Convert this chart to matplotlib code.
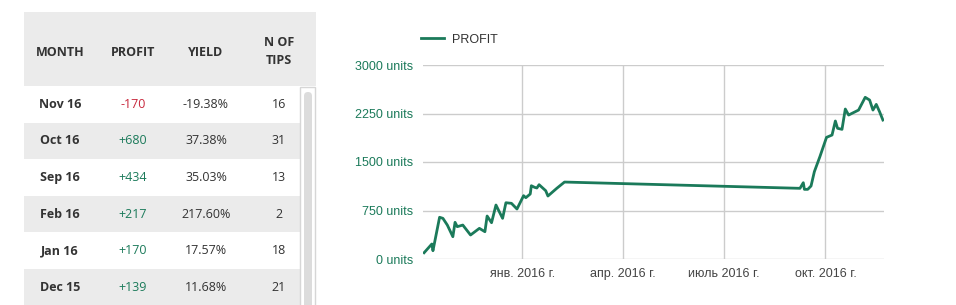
import numpy as np
import pandas as pd
import matplotlib
matplotlib.use("Agg")
import matplotlib.pyplot as plt
import matplotlib.dates as mdates
from matplotlib.patches import Rectangle, FancyBboxPatch

# table data
months = ['Nov 16', 'Oct 16', 'Sep 16', 'Feb 16', 'Jan 16', 'Dec 15']
profits = ['-170', '+680', '+434', '+217', '+170', '+139']
yields = ['-19.38%', '37.38%', '35.03%', '217.60%', '17.57%', '11.68%']
tips = ['16', '31', '13', '2', '18', '21']
headers = ['MONTH', 'PROFIT', 'YIELD', 'N OF\nTIPS']

# cumulative profit line
dates = ['2015-10-04', '2015-10-11', '2015-10-12', '2015-10-18', '2015-10-21',
         '2015-10-25', '2015-10-30', '2015-11-01', '2015-11-03', '2015-11-08',
         '2015-11-15', '2015-11-23', '2015-11-28', '2015-11-30', '2015-12-04',
         '2015-12-08', '2015-12-11', '2015-12-14', '2015-12-17', '2015-12-22',
         '2015-12-27', '2016-01-02', '2016-01-04', '2016-01-08', '2016-01-09',
         '2016-01-12', '2016-01-14', '2016-01-16', '2016-01-22', '2016-01-24',
         '2016-02-01', '2016-02-08', '2016-09-08', '2016-09-11', '2016-09-12',
         '2016-09-15', '2016-09-18', '2016-09-21', '2016-09-26', '2016-10-02',
         '2016-10-07', '2016-10-10', '2016-10-12', '2016-10-16', '2016-10-19',
         '2016-10-22', '2016-10-25', '2016-10-31', '2016-11-06', '2016-11-10',
         '2016-11-13', '2016-11-16', '2016-11-19', '2016-11-22']
profit = [97, 232, 128, 645, 629, 525, 345, 567, 500, 525,
          371, 474, 422, 665, 561, 835, 731, 629, 870, 861,
          773, 979, 948, 1005, 1133, 1108, 1098, 1149, 1056, 974,
          1093, 1190, 1093, 1180, 1077, 1077, 1129, 1350, 1582, 1881,
          1917, 2134, 2021, 2005, 2319, 2226, 2252, 2303, 2500, 2458,
          2303, 2391, 2277, 2149]

y_ticks = [0, 750, 1500, 2250, 3000]
x_tick_dates = ['2016-01-01', '2016-04-01', '2016-07-01', '2016-10-01']
x_tick_labels = ['янв. 2016 г.', 'апр. 2016 г.', 'июль 2016 г.', 'окт. 2016 г.']

GREEN = '#1b7a5a'
RED = '#c8283c'
GRAY_BG = '#ebebeb'
TEXT = '#333333'

W, H = 956, 305
fig = plt.figure(figsize=(W / 100, H / 100), dpi=100)

# ---- table, drawn in pixel coordinates ----
tab = fig.add_axes([0, 0, 1, 1])
tab.set_xlim(0, W)
tab.set_ylim(H, 0)
tab.axis('off')

tab.add_patch(Rectangle((24, 12), 292, 74, color=GRAY_BG, lw=0))
col_x = [60, 133, 206, 279]
for cx, h in zip(col_x, headers):
    tab.text(cx, 52, h, ha='center', va='center', fontsize=9, fontweight='bold',
             family='Open Sans', color=TEXT, linespacing=1.5)

row_top = 86
row_h = 36.6
for i in range(len(months)):
    y0 = row_top + i * row_h
    if i % 2 == 1:
        tab.add_patch(Rectangle((24, y0), 276, row_h, color=GRAY_BG, lw=0))
    yc = y0 + row_h / 2
    tab.text(col_x[0], yc, months[i], ha='center', va='center', fontsize=9,
             fontweight='bold', family='Open Sans', color=TEXT)
    pc = RED if profits[i].startswith('-') else GREEN
    tab.text(col_x[1], yc, profits[i], ha='center', va='center', fontsize=9,
             family='Open Sans', color=pc)
    tab.text(col_x[2], yc, yields[i], ha='center', va='center', fontsize=9,
             family='Open Sans', color=TEXT)
    tab.text(col_x[3], yc, tips[i], ha='center', va='center', fontsize=9,
             family='Open Sans', color=TEXT)

# scrollbar
tab.add_patch(Rectangle((300.5, 86.5), 15, 230, facecolor='white',
                        edgecolor='#d6d6d6', lw=1))
tab.add_patch(FancyBboxPatch((304, 92), 8, 230, boxstyle='round,pad=0,rounding_size=4',
                             facecolor='#dcdcdc', edgecolor='none'))

# ---- line chart ----
ax = fig.add_axes([423 / W, (H - 259) / H, (884 - 423) / W, (259 - 65) / H])
x = pd.to_datetime(dates)
ax.plot(x, profit, color=GREEN, lw=2, label='PROFIT', solid_joinstyle='round')

ax.set_xlim(pd.Timestamp('2015-10-03'), pd.Timestamp('2016-11-23'))
ax.set_ylim(0, 3000)
ax.set_yticks(y_ticks)
ax.set_yticklabels([f'{v} units' for v in y_ticks])
ax.set_xticks(pd.to_datetime(x_tick_dates))
ax.set_xticklabels(x_tick_labels)
ax.tick_params(axis='y', length=0, pad=7, labelsize=9, labelcolor=GREEN)
ax.tick_params(axis='x', length=0, pad=6.5, labelsize=9, labelcolor='#444444')
for lab in ax.get_xticklabels() + ax.get_yticklabels():
    lab.set_family('Liberation Sans')
ax.grid(True, color='#cccccc', lw=1)
ax.set_axisbelow(True)
for s in ax.spines.values():
    s.set_visible(False)

leg = ax.legend(loc='center left', bbox_to_anchor=(-0.005, 1.13), frameon=False,
                handlelength=1.9, handletextpad=0.6, borderpad=0, borderaxespad=0,
                prop={'family': 'Liberation Sans', 'size': 9})
for t in leg.get_texts():
    t.set_color(TEXT)

fig.savefig('out.png', dpi=100)
